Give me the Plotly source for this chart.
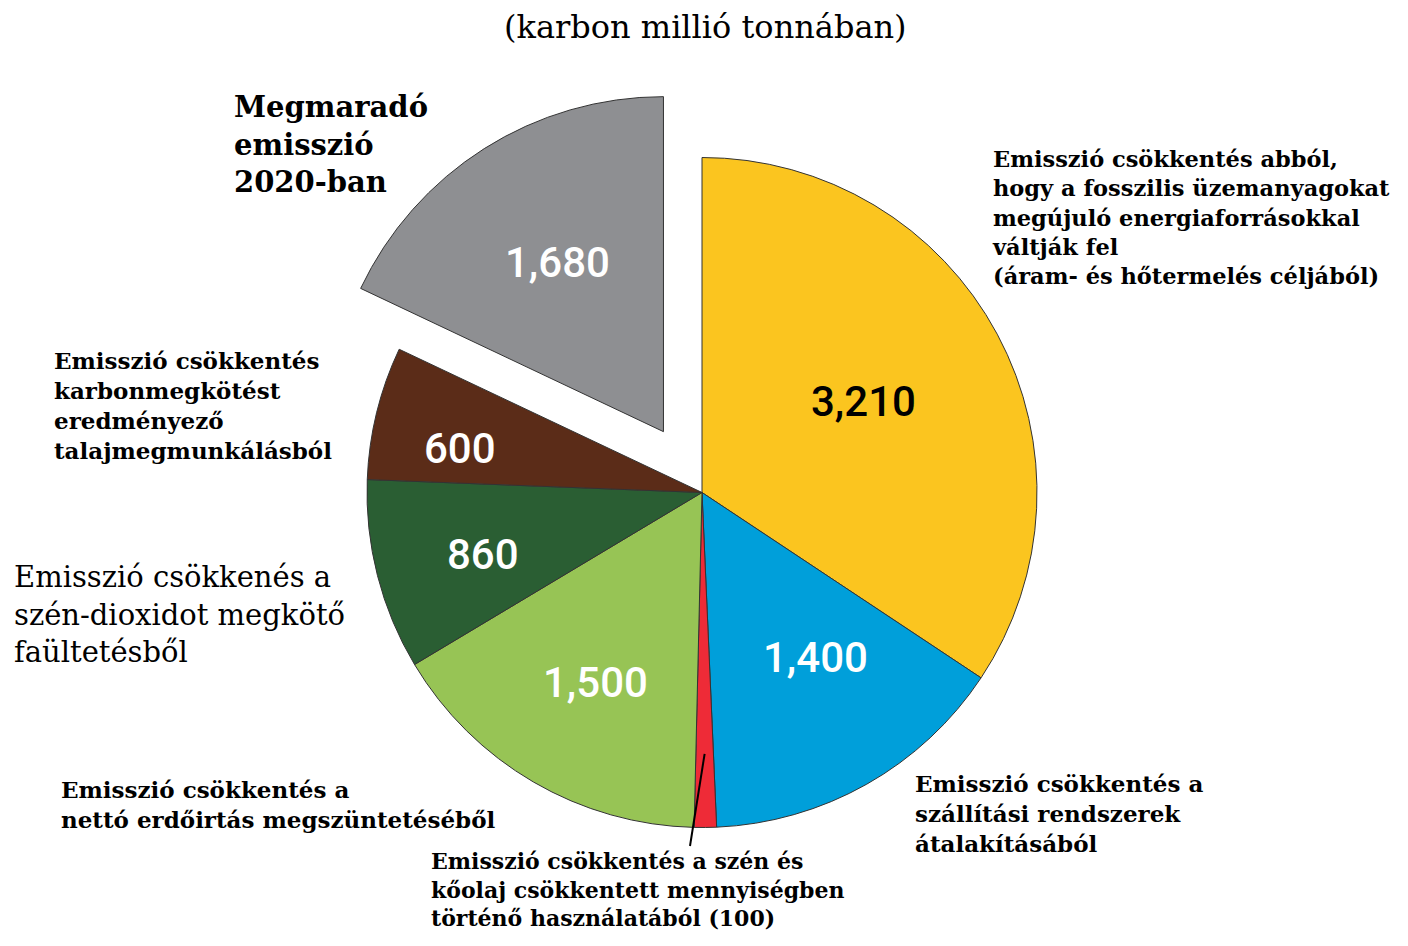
import math
import plotly.graph_objects as go

# pie data (millió tonna karbon)
values = [3210, 1400, 100, 1500, 860, 600, 1680]
num_labels = ["3,210", "1,400", "", "1,500", "860", "600", "1,680"]
colors = ["#FBC51F", "#009FDA", "#EE2B37", "#97C455", "#2A5E33", "#5B2C18", "#8E8F92"]
num_colors = ["black", "white", "white", "white", "white", "white", "white"]
pulls = [0, 0, 0, 0, 0, 0, 0.215]

title = "(karbon millió tonnában)"
desc = [
    "Emisszió csökkentés abból,<br>hogy a fosszilis üzemanyagokat<br>megújuló energiaforrásokkal<br>váltják fel<br>(áram- és hőtermelés céljából)",
    "Emisszió csökkentés a<br>szállítási rendszerek<br>átalakításából",
    "Emisszió csökkentés a szén és<br>kőolaj csökkentett mennyiségben<br>történő használatából (100)",
    "Emisszió csökkentés a<br>nettó erdőirtás megszüntetéséből",
    "Emisszió csökkenés a<br>szén-dioxidot megkötő<br>faültetésből",
    "Emisszió csökkentés<br>karbonmegkötést<br>eredményező<br>talajmegmunkálásból",
    "Megmaradó<br>emisszió<br>2020-ban",
]

# page has an 8px body margin, so the figure is a bit smaller than the window
OFF = 8
W, H = 1408 - 2 * OFF, 946 - 2 * OFF
CX, CY, R = 702, 492.5, 335
box = 2 * R * (1 + max(pulls))


def px(x):
    return (x - OFF) / W


def py(y):
    return 1 - (y - OFF) / H


fig = go.Figure(go.Pie(
    values=values,
    marker=dict(colors=colors, line=dict(color="#333333", width=1)),
    pull=pulls,
    sort=False,
    direction="clockwise",
    rotation=0,
    textinfo="none",
    hoverinfo="value",
    domain=dict(x=[px(CX - box / 2), px(CX + box / 2)],
                y=[py(CY + box / 2), py(CY - box / 2)]),
))

serif = "DejaVu Serif"
ann = []
ann.append(dict(x=px(705), y=py(27), text=title, xanchor="center", yanchor="middle",
                showarrow=False, font=dict(family=serif, size=32, color="black")))

# label positions: (x_left, y_center, size, weight)
label_pos = [
    (990, 217, 22.5, "bold"),
    (913, 813, 23, "bold"),
    (429, 889, 22, "bold"),
    (59, 804, 23, "bold"),
    (12, 614, 29, "normal"),
    (52, 405, 23, "bold"),
    (232, 144, 29, "bold"),
]
for t, (x, y, s, w) in zip(desc, label_pos):
    ann.append(dict(x=px(x), y=py(y), text=t, xanchor="left", yanchor="middle", align="left",
                    showarrow=False, font=dict(family=serif, size=s, color="black", weight=w)))

num_pos = [(863, 402), (815, 657), None, (595, 682), (483, 554), (460, 448), (557, 263)]
for t, c, p in zip(num_labels, num_colors, num_pos):
    if p is None:
        continue
    ann.append(dict(x=px(p[0]), y=py(p[1]), text=t, xanchor="center", yanchor="middle",
                    showarrow=False, font=dict(family="Roboto", size=42, color=c, weight=500)))

# leader line to the small red slice
tot = sum(values)
mid = (sum(values[:2]) + values[2] / 2) / tot * 2 * math.pi
tip = (CX + 0.78 * R * math.sin(mid), CY - 0.78 * R * math.cos(mid))
shapes = [dict(type="line", xref="paper", yref="paper",
               x0=px(tip[0]), y0=py(tip[1]), x1=px(690), y1=py(846),
               line=dict(color="black", width=2))]

fig.update_layout(
    width=W, height=H,
    margin=dict(l=0, r=0, t=0, b=0),
    paper_bgcolor="white",
    plot_bgcolor="white",
    showlegend=False,
    annotations=ann,
    shapes=shapes,
)

fig.write_html("out.html")
